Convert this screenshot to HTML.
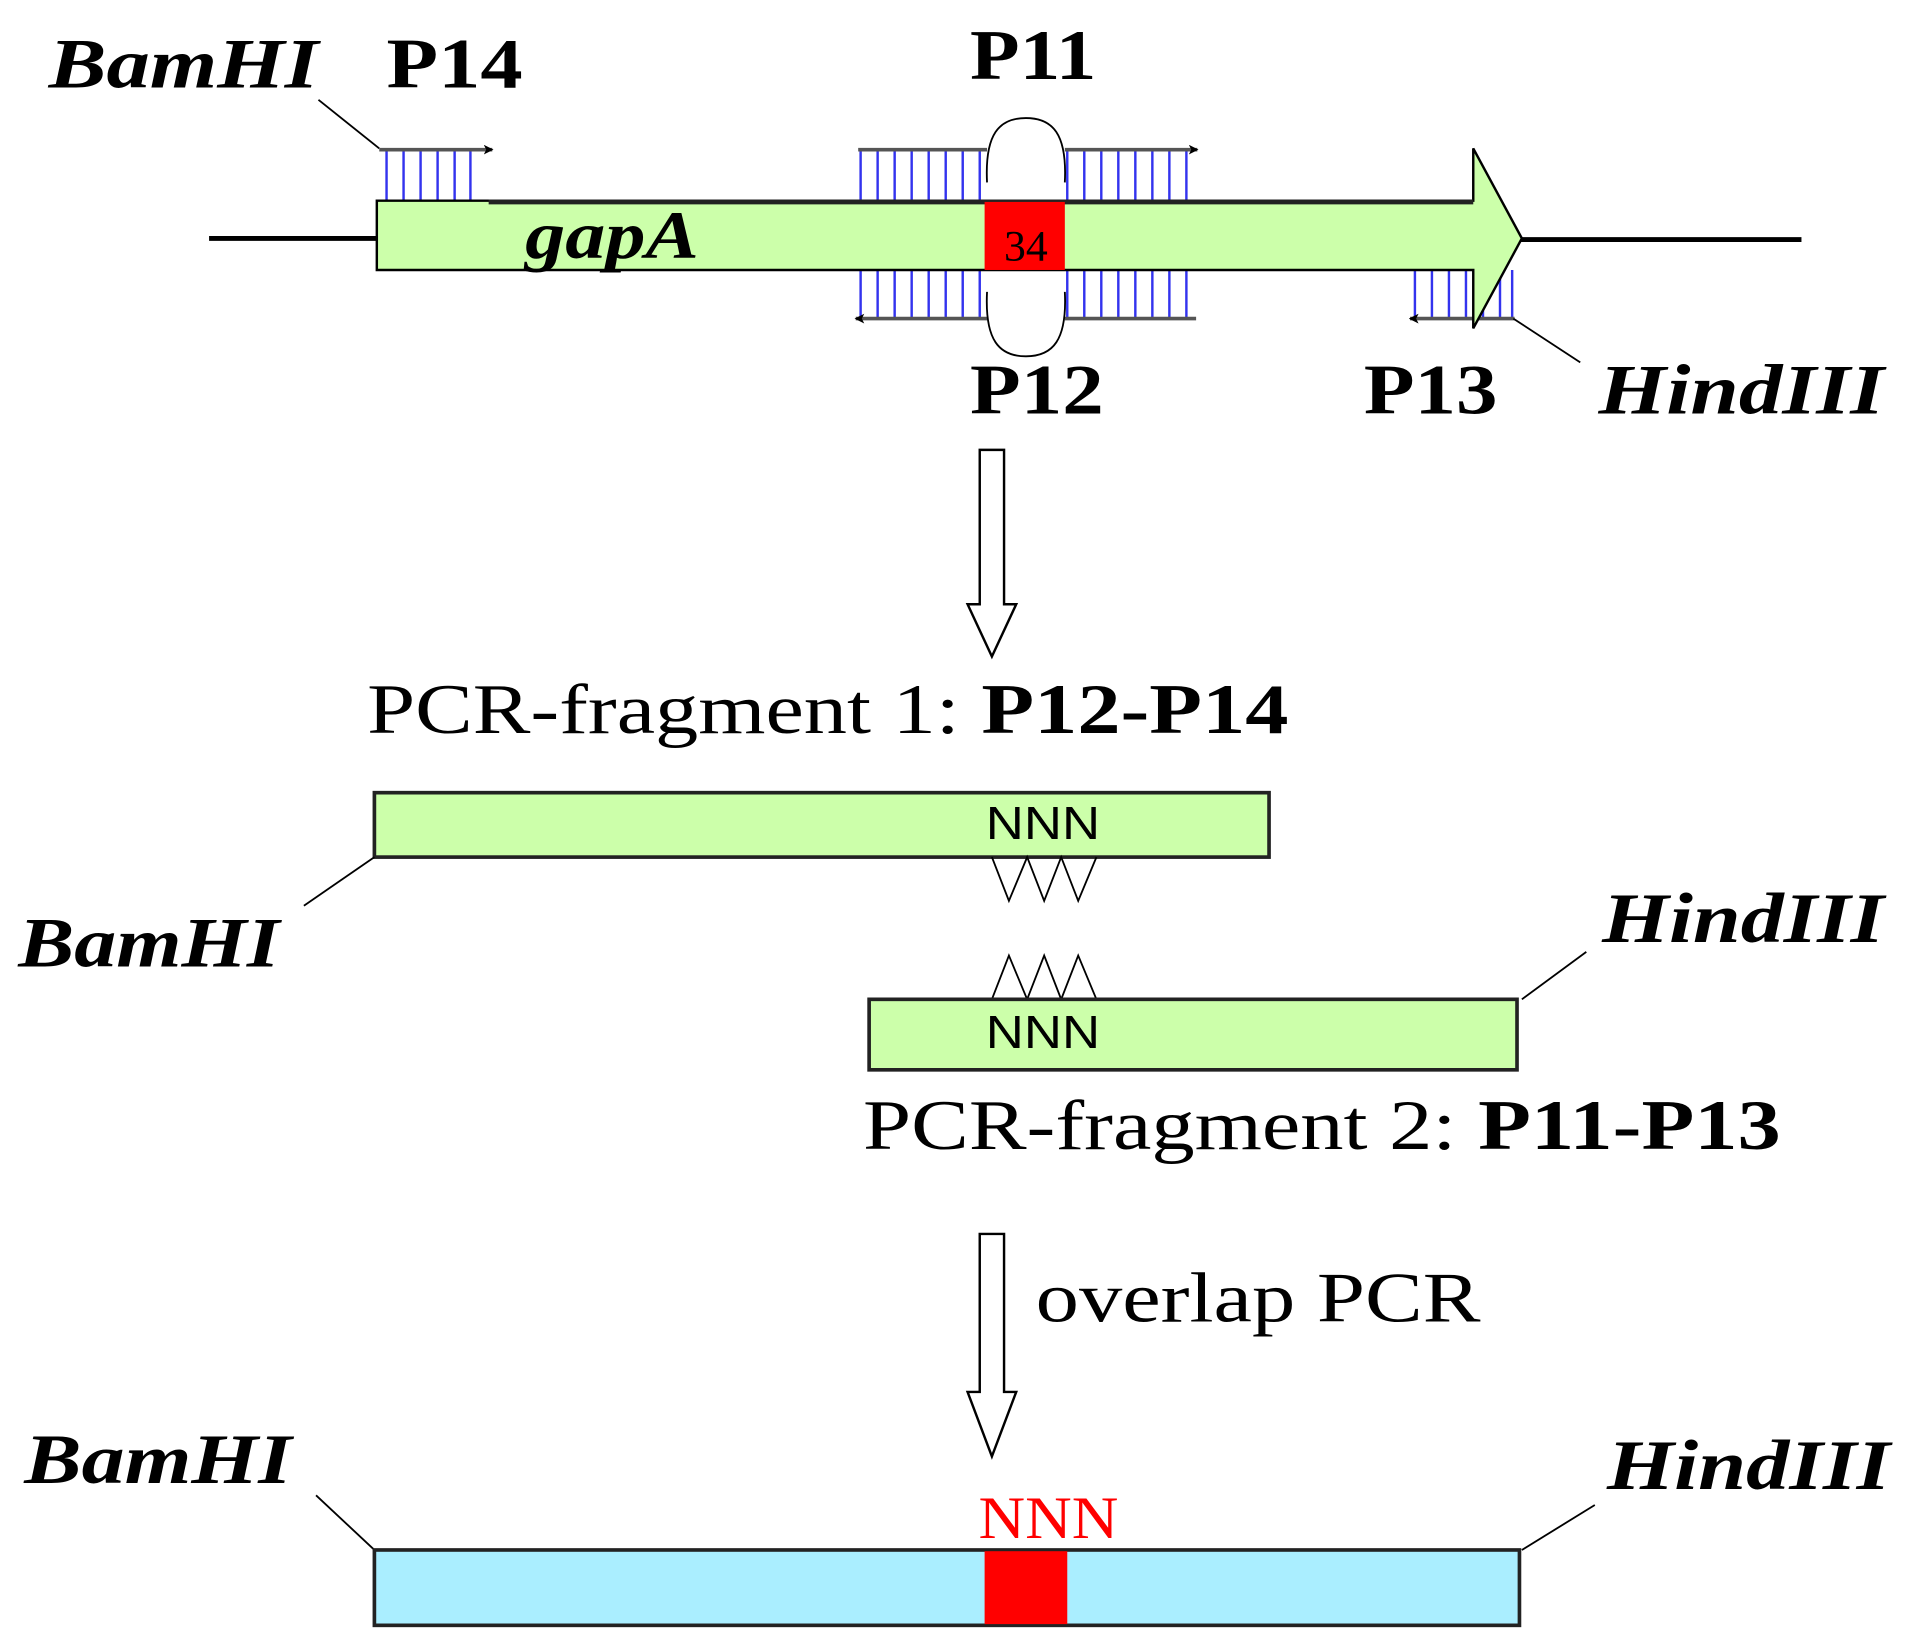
<!DOCTYPE html>
<html><head><meta charset="utf-8"><style>
html,body{margin:0;padding:0;background:#fff;}
svg{display:block;}
.s{font-family:"Liberation Serif","Times New Roman",serif;}
.a{font-family:"Liberation Sans",Arial,sans-serif;}
</style></head><body>
<svg width="1906" height="1651" viewBox="0 0 1568 1358" xmlns="http://www.w3.org/2000/svg">
<defs>
<marker id="ah" markerWidth="8" markerHeight="8" refX="7" refY="4" orient="auto" markerUnits="userSpaceOnUse">
<path d="M0,0 L8,4 L0,8 L2,4 Z" fill="#000"/></marker>
</defs>
<text class="s" x="40" y="72" font-size="58" font-weight="bold" font-style="italic" textLength="222" lengthAdjust="spacingAndGlyphs">BamHI</text>
<text class="s" x="318" y="72" font-size="58" font-weight="bold" textLength="112" lengthAdjust="spacingAndGlyphs">P14</text>
<text class="s" x="798" y="65" font-size="58" font-weight="bold" textLength="104" lengthAdjust="spacingAndGlyphs">P11</text>
<line x1="262" y1="82" x2="312" y2="122" stroke="#000" stroke-width="1.5"/>
<line x1="172" y1="196" x2="312" y2="196" stroke="#000" stroke-width="4"/>
<line x1="1250" y1="197" x2="1482" y2="197" stroke="#000" stroke-width="4"/>
<g stroke="#3333ee" stroke-width="2">
<line x1="318" y1="124" x2="318" y2="165"/><line x1="332" y1="124" x2="332" y2="165"/><line x1="346" y1="124" x2="346" y2="165"/><line x1="360" y1="124" x2="360" y2="165"/><line x1="374" y1="124" x2="374" y2="165"/><line x1="387" y1="124" x2="387" y2="165"/>
<line x1="708" y1="124" x2="708" y2="165"/><line x1="722" y1="124" x2="722" y2="165"/><line x1="736" y1="124" x2="736" y2="165"/><line x1="750" y1="124" x2="750" y2="165"/><line x1="764" y1="124" x2="764" y2="165"/><line x1="778" y1="124" x2="778" y2="165"/><line x1="792" y1="124" x2="792" y2="165"/><line x1="806" y1="124" x2="806" y2="165"/>
<line x1="878" y1="124" x2="878" y2="165"/><line x1="892" y1="124" x2="892" y2="165"/><line x1="906" y1="124" x2="906" y2="165"/><line x1="920" y1="124" x2="920" y2="165"/><line x1="934" y1="124" x2="934" y2="165"/><line x1="948" y1="124" x2="948" y2="165"/><line x1="962" y1="124" x2="962" y2="165"/><line x1="976" y1="124" x2="976" y2="165"/>
<line x1="708" y1="222" x2="708" y2="262"/><line x1="722" y1="222" x2="722" y2="262"/><line x1="736" y1="222" x2="736" y2="262"/><line x1="750" y1="222" x2="750" y2="262"/><line x1="764" y1="222" x2="764" y2="262"/><line x1="778" y1="222" x2="778" y2="262"/><line x1="792" y1="222" x2="792" y2="262"/><line x1="806" y1="222" x2="806" y2="262"/>
<line x1="878" y1="222" x2="878" y2="262"/><line x1="892" y1="222" x2="892" y2="262"/><line x1="906" y1="222" x2="906" y2="262"/><line x1="920" y1="222" x2="920" y2="262"/><line x1="934" y1="222" x2="934" y2="262"/><line x1="948" y1="222" x2="948" y2="262"/><line x1="962" y1="222" x2="962" y2="262"/><line x1="976" y1="222" x2="976" y2="262"/>
<line x1="1164" y1="222" x2="1164" y2="262"/><line x1="1178" y1="222" x2="1178" y2="262"/><line x1="1192" y1="222" x2="1192" y2="262"/><line x1="1206" y1="222" x2="1206" y2="262"/><line x1="1220" y1="222" x2="1220" y2="262"/><line x1="1234" y1="222" x2="1234" y2="262"/><line x1="1244" y1="222" x2="1244" y2="262"/>
</g>
<g stroke="#555" stroke-width="3" fill="none">
<line x1="312" y1="123" x2="405" y2="123" marker-end="url(#ah)"/>
<line x1="706" y1="123" x2="812" y2="123"/>
<line x1="876" y1="123" x2="985" y2="123" marker-end="url(#ah)"/>
<line x1="984" y1="262" x2="876" y2="262"/>
<line x1="812" y1="262" x2="704" y2="262" marker-end="url(#ah)"/>
<line x1="1246" y1="262" x2="1160" y2="262" marker-end="url(#ah)"/>
</g>
<path d="M812,150 C810,110 822,97 844,97 C866,97 878,110 876,150" fill="none" stroke="#000" stroke-width="1.5"/>
<path d="M812,240 C810,280 822,293 844,293 C866,293 878,280 876,240" fill="none" stroke="#000" stroke-width="1.5"/>
<path d="M310,165 L1212,165 L1212,122 L1252,196 L1212,270 L1212,222 L310,222 Z" fill="#ccffaa" stroke="#000" stroke-width="2"/>
<line x1="402" y1="166" x2="1212" y2="166" stroke="#222" stroke-width="4"/>
<rect x="810" y="166" width="66" height="56" fill="#ff0000"/>
<text class="s" x="826" y="214" font-size="36" textLength="36" lengthAdjust="spacingAndGlyphs">34</text>
<text class="s" x="432" y="212" font-size="56" font-weight="bold" font-style="italic" textLength="143" lengthAdjust="spacingAndGlyphs">gapA</text>
<line x1="1245" y1="262" x2="1300" y2="298" stroke="#000" stroke-width="1.5"/>
<text class="s" x="798" y="340" font-size="58" font-weight="bold" textLength="110" lengthAdjust="spacingAndGlyphs">P12</text>
<text class="s" x="1122" y="340" font-size="58" font-weight="bold" textLength="110" lengthAdjust="spacingAndGlyphs">P13</text>
<text class="s" x="1315" y="340" font-size="58" font-weight="bold" font-style="italic" textLength="235" lengthAdjust="spacingAndGlyphs">HindIII</text>
<path d="M806,370 L826,370 L826,497 L836,497 L816,540 L796,497 L806,497 Z" fill="#fff" stroke="#000" stroke-width="2"/>
<text class="s" x="302" y="603" font-size="58" textLength="758" lengthAdjust="spacingAndGlyphs">PCR-fragment 1: <tspan font-weight="bold">P12-P14</tspan></text>
<rect x="308" y="652" width="736" height="53" fill="#ccffaa" stroke="#222" stroke-width="3"/>
<text class="a" x="811" y="690" font-size="38" textLength="94" lengthAdjust="spacingAndGlyphs">NNN</text>
<path d="M816,705 L830,741 L845,705 L859,741 L873,705 L887,741 L902,705" fill="none" stroke="#000" stroke-width="1.5"/>
<line x1="308" y1="705" x2="250" y2="745" stroke="#000" stroke-width="1.5"/>
<text class="s" x="15" y="795" font-size="58" font-weight="bold" font-style="italic" textLength="215" lengthAdjust="spacingAndGlyphs">BamHI</text>
<text class="s" x="1318" y="775" font-size="58" font-weight="bold" font-style="italic" textLength="232" lengthAdjust="spacingAndGlyphs">HindIII</text>
<line x1="1305" y1="783" x2="1252" y2="822" stroke="#000" stroke-width="1.5"/>
<path d="M816,822 L830,786 L845,822 L859,786 L873,822 L887,786 L902,822" fill="none" stroke="#000" stroke-width="1.5"/>
<rect x="715" y="822" width="533" height="58" fill="#ccffaa" stroke="#222" stroke-width="3"/>
<text class="a" x="811" y="862" font-size="38" textLength="94" lengthAdjust="spacingAndGlyphs">NNN</text>
<text class="s" x="710" y="945" font-size="58" textLength="755" lengthAdjust="spacingAndGlyphs">PCR-fragment 2: <tspan font-weight="bold">P11-P13</tspan></text>
<path d="M806,1015 L826,1015 L826,1145 L836,1145 L816,1198 L796,1145 L806,1145 Z" fill="#fff" stroke="#000" stroke-width="2"/>
<text class="s" x="852" y="1087" font-size="58" textLength="366" lengthAdjust="spacingAndGlyphs">overlap PCR</text>
<text class="s" x="20" y="1220" font-size="58" font-weight="bold" font-style="italic" textLength="220" lengthAdjust="spacingAndGlyphs">BamHI</text>
<text class="s" x="1322" y="1225" font-size="58" font-weight="bold" font-style="italic" textLength="233" lengthAdjust="spacingAndGlyphs">HindIII</text>
<text class="s" x="805" y="1265" font-size="50" fill="#ff0000" textLength="115" lengthAdjust="spacingAndGlyphs">NNN</text>
<line x1="260" y1="1230" x2="308" y2="1275" stroke="#000" stroke-width="1.5"/>
<line x1="1312" y1="1238" x2="1252" y2="1275" stroke="#000" stroke-width="1.5"/>
<rect x="308" y="1275" width="942" height="62" fill="#aaeeff" stroke="#222" stroke-width="3"/>
<rect x="810" y="1276" width="68" height="60" fill="#ff0000"/>
</svg>
</body></html>
